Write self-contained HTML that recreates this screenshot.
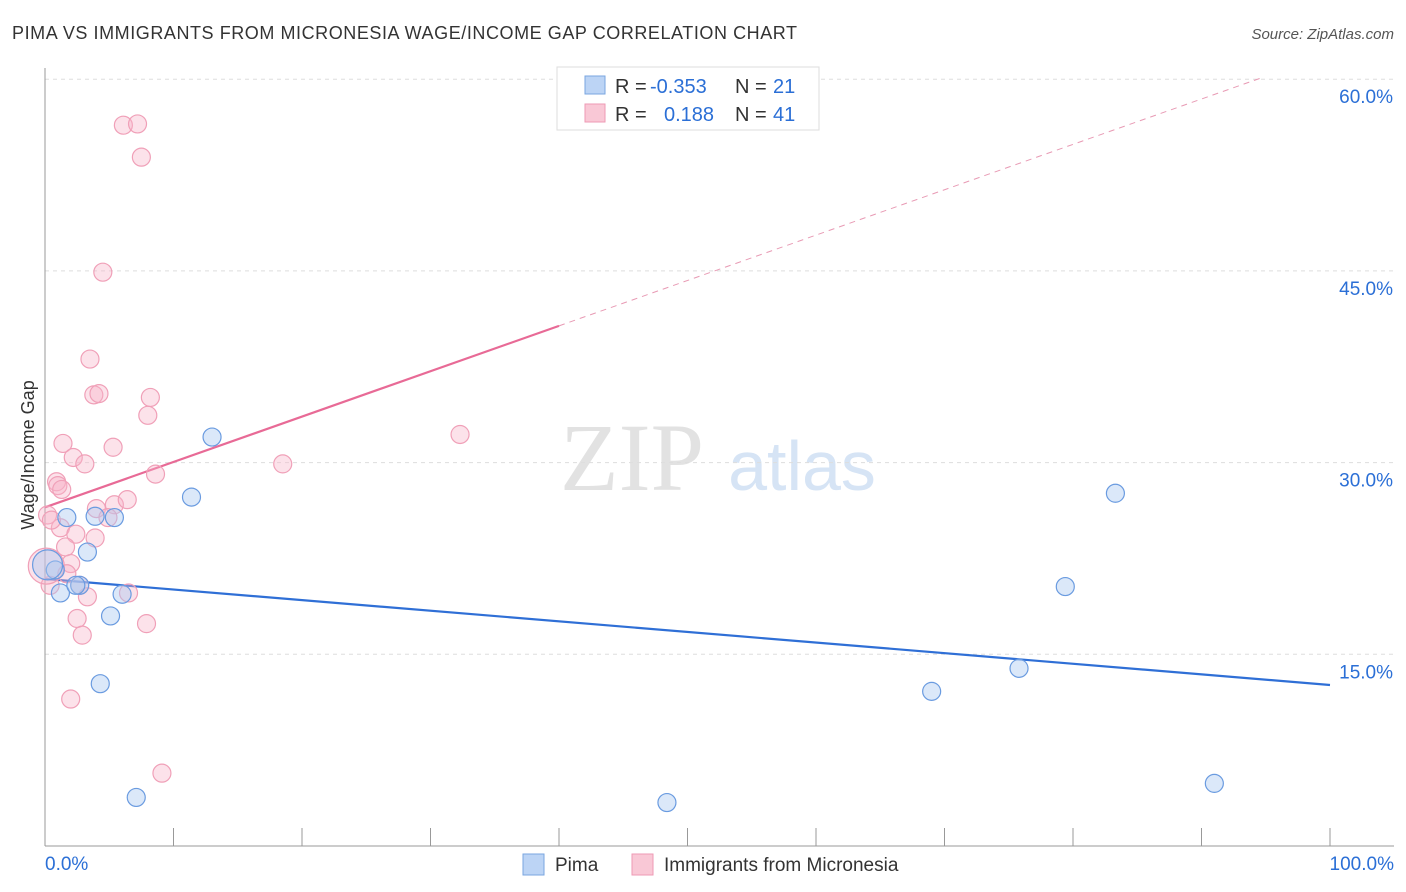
<!DOCTYPE html>
<html><head><meta charset="utf-8"><style>
body{margin:0;background:#fff;font-family:"Liberation Sans",sans-serif;}
svg{display:block}
</style></head><body>
<svg id="chart" width="1406" height="892">
<text x="12" y="39" font-size="18" fill="#333" textLength="785">PIMA VS IMMIGRANTS FROM MICRONESIA WAGE/INCOME GAP CORRELATION CHART</text>
<text x="1394" y="39" font-size="15" fill="#555" font-style="italic" text-anchor="end">Source: ZipAtlas.com</text>
<text x="632" y="490" font-size="96" fill="#e2e2e2" font-family="Liberation Serif,serif" text-anchor="middle">ZIP</text>
<text x="802" y="490" font-size="70" fill="#d6e4f5" text-anchor="middle">atlas</text>
<g id="grid"></g><g id="axes"></g><g id="lines"></g><g id="pts"></g>
<text transform="translate(34,455) rotate(-90)" font-size="18" fill="#333" text-anchor="middle">Wage/Income Gap</text>
<g>
<rect x="557" y="67" width="262" height="63" fill="#fff" stroke="#ddd"/>
<rect x="585" y="76" width="20" height="18" fill="#bcd4f5" stroke="#7aa6e0"/>
<rect x="585" y="104" width="20" height="18" fill="#f9c8d6" stroke="#ee9ab4"/>
<text x="615" y="93" font-size="20" fill="#333">R =</text>
<text x="650" y="93" font-size="20" fill="#2b6fd6">-0.353</text>
<text x="735" y="93" font-size="20" fill="#333">N =</text>
<text x="773" y="93" font-size="20" fill="#2b6fd6">21</text>
<text x="615" y="121" font-size="20" fill="#333">R =</text>
<text x="664" y="121" font-size="20" fill="#2b6fd6">0.188</text>
<text x="735" y="121" font-size="20" fill="#333">N =</text>
<text x="773" y="121" font-size="20" fill="#2b6fd6">41</text>
</g>
<g>
<rect x="523" y="854" width="21" height="21" fill="#bcd4f5" stroke="#7aa6e0"/>
<text x="555" y="871" font-size="19" fill="#333">Pima</text>
<rect x="632" y="854" width="21" height="21" fill="#f9c8d6" stroke="#ee9ab4"/>
<text x="664" y="871" font-size="19" fill="#333">Immigrants from Micronesia</text>
</g>
</svg>
<script>
const yTicks=[15,30,45,60];
const yTickLabels=["15.0%","30.0%","45.0%","60.0%"];
const xTickLabels=["0.0%","100.0%"];
const pimaX=[1.7,3.3,1.2,2.7,0.8,0.2,3.9,5.4,5.1,6.0,4.3,7.1,13.0,11.4,48.4,69.0,75.8,79.4,83.3,91.0,2.4];
const pimaY=[25.7,23.0,19.8,20.4,21.6,22.0,25.8,25.7,18.0,19.7,12.7,3.8,32.0,27.3,3.4,12.1,13.9,20.3,27.6,4.9,20.4];
const micX=[6.1,7.2,7.5,4.5,3.5,3.8,4.2,8.2,8.0,1.4,5.3,2.2,3.1,8.6,18.5,32.3,0.9,1.0,1.3,0.2,4.0,5.4,6.4,4.9,1.2,2.4,3.9,1.6,2.0,1.7,0.4,2.7,3.3,6.5,2.5,2.9,7.9,2.0,9.1,0.1,0.5];
const micY=[56.4,56.5,53.9,44.9,38.1,35.3,35.4,35.1,33.7,31.5,31.2,30.4,29.9,29.1,29.9,32.2,28.5,28.2,27.9,25.9,26.4,26.7,27.1,25.7,24.9,24.4,24.1,23.4,22.1,21.3,20.4,20.4,19.5,19.8,17.8,16.5,17.4,11.5,5.7,21.9,25.5];
const pimaTrend=[20.9,12.6];
const micTrend=[26.5,0.355];
const X=v=>45+v*12.85, Y=v=>846-v*12.78;
const ns="http://www.w3.org/2000/svg";
function mk(t,a,p){const e=document.createElementNS(ns,t);for(const k in a)e.setAttribute(k,a[k]);p.appendChild(e);return e;}
const grid=document.getElementById('grid'),axes=document.getElementById('axes'),lines=document.getElementById('lines'),pts=document.getElementById('pts');
yTicks.forEach((t,i)=>{
 const l=mk('line',{x1:45,x2:1394,y1:Y(t),y2:Y(t),stroke:'#ddd','stroke-dasharray':'4,4'},grid);
 
 
 const tx=mk('text',{x:1393,y:Y(t)+24,'font-size':19,fill:'#2b6fd6','text-anchor':'end'},axes);
 tx.textContent=yTickLabels[i];
 
 
});
const ax=mk('line',{x1:45,x2:45,y1:68,y2:846,stroke:'#999'},axes);


const bx=mk('line',{x1:45,x2:1394,y1:846,y2:846,stroke:'#999'},axes);


for(let i=1;i<=10;i++){const t=mk('line',{x1:X(i*10),x2:X(i*10),y1:828,y2:846,stroke:'#999'},axes);
 
 }
[[0,'start',45],[100,'end',1394]].forEach((d,i)=>{const t=mk('text',{x:d[2],y:870,'font-size':19,fill:'#2b6fd6','text-anchor':d[1]},axes);t.textContent=xTickLabels[i];
 
 });
function dot(x,y,fill,stroke,r,name){const c=mk('circle',{cx:X(x),cy:Y(y),r:r,fill:fill,stroke:stroke,'stroke-width':1.2},pts);
 
 }
micX.forEach((x,i)=>dot(x,micY[i],'rgba(248,180,200,0.38)','#f0a0b8',i==39?18:9,'micronesia-point'));
pimaX.forEach((x,i)=>dot(x,pimaY[i],'rgba(170,200,240,0.42)','#6a9be0',i==5?15:9,'pima-point'));
const pl=mk('line',{x1:X(0),y1:Y(pimaTrend[0]),x2:X(100),y2:Y(pimaTrend[1]),stroke:'#2f6fd6','stroke-width':2.2},lines);


const ms=mk('line',{x1:X(0),y1:Y(micTrend[0]),x2:X(40),y2:Y(micTrend[0]+40*micTrend[1]),stroke:'#e86a96','stroke-width':2.2},lines);


const md=mk('line',{x1:X(40),y1:Y(micTrend[0]+40*micTrend[1]),x2:X(94.6),y2:Y(micTrend[0]+94.6*micTrend[1]),stroke:'#e89ab4','stroke-width':1,'stroke-dasharray':'6,5'},lines);


</script>
</body></html>
